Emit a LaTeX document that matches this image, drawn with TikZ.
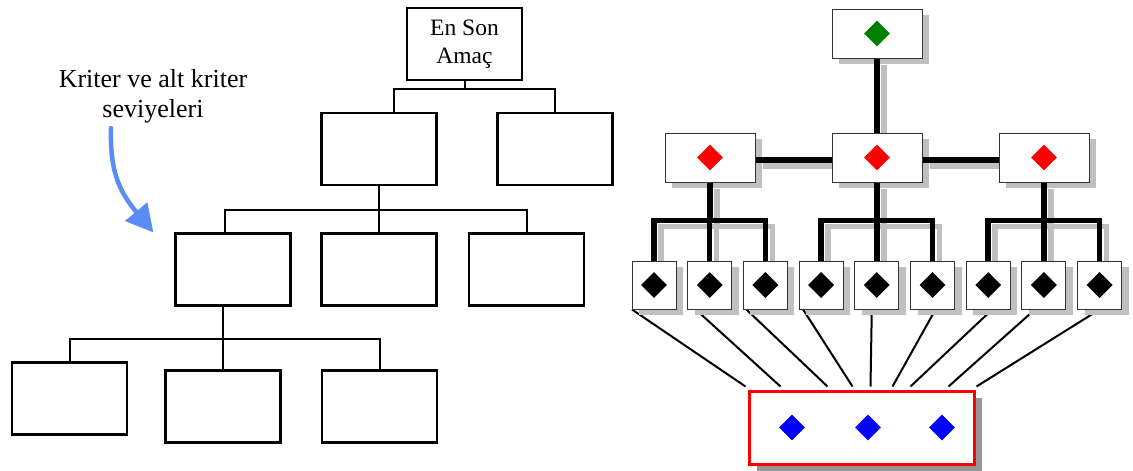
\documentclass[tikz,border=0pt]{standalone}
\usepackage{fontspec}
\setmainfont{Liberation Serif}
\usepackage{tikz}
\usetikzlibrary{arrows.meta}
\usetikzlibrary{shapes.geometric}
\usetikzlibrary{shadows}
\usetikzlibrary{backgrounds}

\definecolor{boxshade}{RGB}{192,192,192}
\definecolor{goalshade}{RGB}{150,150,150}
\definecolor{pointer}{RGB}{90,140,245}
\definecolor{leafgreen}{RGB}{0,128,0}

\tikzset{
  crit/.style={draw, line width=2.2pt, minimum width=115pt, minimum height=72pt, inner sep=0pt},
  link/.style={line width=2pt},
  cell/.style={draw=black!80, line width=1pt, fill=white, minimum width=90pt, minimum height=49pt,
    drop shadow={shadow xshift=7pt, shadow yshift=-6pt, fill=boxshade, opacity=1}},
  leaf/.style={cell, minimum width=44pt, minimum height=48pt},
  gem/.style={diamond, fill=#1, inner sep=0pt, minimum size=26pt},
  trunk/.style={line width=5.5pt},
  spoke/.style={line width=2pt},
}

\begin{document}
\begin{tikzpicture}[x=1pt, y=-1pt]
    \useasboundingbox (0,0) rectangle (1133,471);

    % Left hierarchy: goal, criteria and sub-criteria
    \node[crit, align=center, font=\fontsize{23.5}{28}\selectfont] (T) at (464.5,44) {En Son\\Amaç};
    \node[crit] (A) at (379,149) {};
    \node[crit] (B) at (555,149) {};
    \node[crit] (C) at (233,269.5) {};
    \node[crit] (D) at (379,269.5) {};
    \node[crit] (E) at (526.5,269.5) {};
    \node[crit] (F) at (69.5,398.5) {};
    \node[crit] (G) at (223,406.5) {};
    \node[crit] (H) at (379.5,406.5) {};

    % Bus lines between the levels
    \draw[link] ([xshift=15pt]A.north) |- ([yshift=-8pt]T.south) -- (T.south);
    \draw[link] (B.north) |- ([yshift=-8pt]T.south);
    \draw[link] ([xshift=-8pt]C.north) |- ([yshift=-24pt]A.south) -- (A.south);
    \draw[link] (D.north) -- (A.south);
    \draw[link] (E.north) |- ([yshift=-24pt]A.south);
    \draw[link] (F.north) |- ([xshift=-10pt,yshift=-32pt]C.south) -- ([xshift=-10pt]C.south);
    \draw[link] (G.north) |- ([xshift=-10pt,yshift=-32pt]C.south);
    \draw[link] (H.north) |- ([xshift=-10pt,yshift=-32pt]C.south);

    % Label with its curved pointer
    \node[align=center, font=\fontsize{26}{30}\selectfont, inner sep=0pt, anchor=north] (lvl) at (153,69) {Kriter ve alt kriter\\seviyeleri};
    \coordinate (ptr) at (111,128);
    \draw[pointer, line width=4.5pt, line cap=round, -{Triangle[length=27pt,width=28pt]}]
        (ptr) .. controls (110,170) and (118,190) .. ([xshift=-21pt]C.north west);

    % Right hierarchy
    \node[cell] (top) at (877,33.5) {};
    \node[gem=leafgreen] (tg) at (top) {};
    \foreach \n/\x in {1/710, 2/877, 3/1044} {
        \node[cell] (m\n) at (\x,157.5) {};
        \node[gem=red] (mg\n) at (m\n) {};
    }
    \foreach \i in {1,...,9} {
        \node[leaf] (s\i) at ({654+55.7*(\i-1)},285) {};
        \node[gem=black] (sg\i) at (s\i) {};
    }
    \node[draw=red, line width=3pt, fill=white, minimum width=225pt, minimum height=73pt,
        drop shadow={shadow xshift=8pt, shadow yshift=-7pt, fill=goalshade, opacity=1}] (goal) at (861.5,427.5) {};
    \foreach \n/\dx in {1/-69.5, 2/6.5, 3/80.5}
        \node[gem=blue] (bg\n) at ([xshift=\dx pt]goal.center) {};

    % Thick connectors, drawn twice (shadow and line)
    \def\trunks#1{%
        \draw[trunk] ([shift={#1}]top.south) -- ([shift={#1}]m2.north);
        \draw[trunk] ([shift={#1},yshift=-2.5pt]m1.east) -- ([shift={#1},yshift=-2.5pt]m2.west);
        \draw[trunk] ([shift={#1},yshift=-2.5pt]m2.east) -- ([shift={#1},yshift=-2.5pt]m3.west);
        \foreach \up/\dn in {m1/s1, m1/s2, m1/s3, m2/s4, m2/s5, m2/s6, m3/s7, m3/s8, m3/s9}
            \draw[trunk] ([shift={#1}]\dn.north) |- ([shift={#1},yshift=-38pt]\up.south) -- ([shift={#1}]\up.south);
    }

    \begin{scope}[on background layer]
        \begin{scope}[trunk/.append style={draw=boxshade}]
            \trunks{(7,6)}
        \end{scope}
        % Lines from the sub-criteria down to the alternatives
        \foreach \i/\a/\b in {1/-22/-2, 2/-14/33, 3/-19/80, 4/-18/105, 5/-5/123, 6/3/145, 7/4/163, 8/-9/201, 9/0/229}
            \draw[spoke] ([xshift=\a pt]s\i.south) -- ([xshift=\b pt, yshift=3pt]goal.north west);
    \end{scope}
    \trunks{(0,0)}

\end{tikzpicture}
\end{document}
